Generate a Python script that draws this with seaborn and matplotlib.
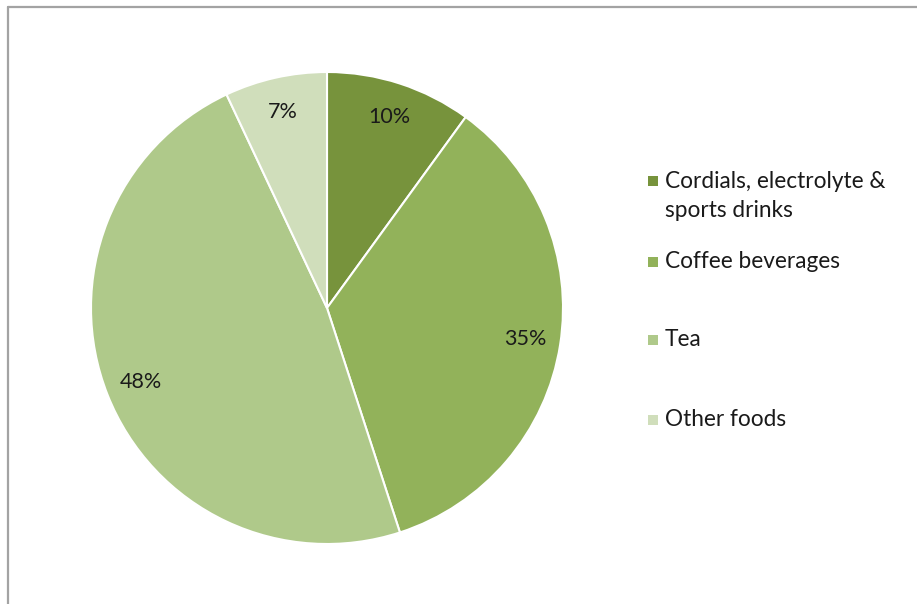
import matplotlib
matplotlib.use("Agg")
import matplotlib.pyplot as plt
import seaborn as sns
from matplotlib.lines import Line2D
from matplotlib.patches import Rectangle

sns.set_theme(style="white")
plt.rcParams['font.family'] = ['Lato', 'DejaVu Sans']

categories = ["Cordials, electrolyte &\nsports drinks", "Coffee beverages", "Tea", "Other foods"]
values = [10, 35, 48, 7]
colors = ["#77933C", "#92B25A", "#AFC98A", "#D0DEBB"]

W, H = 917, 604
fig = plt.figure(figsize=(W / 100, H / 100), dpi=100)
cx, cy, r = 327, 308, 236
ax = fig.add_axes([(cx - r) / W, (H - cy - r) / H, 2 * r / W, 2 * r / H])

wedges, texts, autotexts = ax.pie(
    values, colors=colors, startangle=90, counterclock=False,
    autopct=lambda p: f"{p:.0f}%", pctdistance=0.85,
    wedgeprops=dict(edgecolor="white", linewidth=1.5),
    textprops=dict(fontsize=15.5, color="#1a1a1a"))
ax.set_xlim(-1, 1)
ax.set_ylim(-1, 1)
ax.set_aspect("equal")
ax.axis("off")

# legend (manual, first-line aligned)
legend_y = [181, 262, 340, 420]
for lab, col, y in zip(categories, colors, legend_y):
    fig.add_artist(Rectangle(((648) / W, (H - y - 5) / H), 10 / W, 10 / H,
                             transform=fig.transFigure, facecolor=col, edgecolor="none"))
    fig.text(665 / W, (H - y) / H, lab.split("\n")[0], fontsize=16.3, color="#1a1a1a",
             va="center", ha="left")
    if "\n" in lab:
        fig.text(665 / W, (H - y - 30) / H, lab.split("\n")[1], fontsize=16.3,
                 color="#1a1a1a", va="center", ha="left")

# frame
fig.add_artist(Line2D([8 / W, 1], [1 - 7 / H, 1 - 7 / H], transform=fig.transFigure,
                      color="#a3a3a3", linewidth=1.6))
fig.add_artist(Line2D([8 / W, 8 / W], [0, 1 - 7 / H], transform=fig.transFigure,
                      color="#a3a3a3", linewidth=1.6))

fig.savefig("out.png", dpi=100, facecolor="white")
